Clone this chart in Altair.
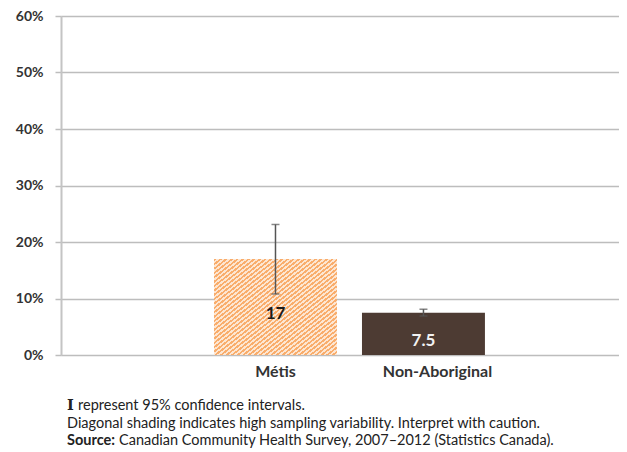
import altair as alt
import pandas as pd

categories = ["Métis", "Non-Aboriginal"]
values = [17, 7.5]
ci_low = [10.8, 6.9]
ci_high = [23.1, 8.1]
hatched = [True, False]
value_labels = ["17", "7.5"]
y_ticks = [0, 10, 20, 30, 40, 50, 60]

df = pd.DataFrame({
    "category": categories,
    "value": values,
    "low": ci_low,
    "high": ci_high,
    "hatched": hatched,
    "label": value_labels,
})

FONT = "Lato"
ORANGE = "#f9ad6c"
LIGHT = "#fde6d2"
BROWN = "#4d3b33"

# diagonal hatching built as a hard-stop linear gradient
n_stripes = 44
stops = []
for k in range(n_stripes):
    a = k / n_stripes
    b = (k + 0.5) / n_stripes
    c = (k + 1) / n_stripes
    stops += [
        alt.GradientStop(offset=a, color=ORANGE),
        alt.GradientStop(offset=b, color=ORANGE),
        alt.GradientStop(offset=b, color=LIGHT),
        alt.GradientStop(offset=c, color=LIGHT),
    ]
hatch = alt.LinearGradient(gradient="linear", stops=stops, x1=0, y1=0, x2=1, y2=1)

x_enc = alt.X(
    "category:N",
    sort=categories,
    scale=alt.Scale(domain=categories, paddingInner=0.169, paddingOuter=0.97, align=0.533),
    axis=alt.Axis(
        title=None, ticks=False, domain=False, labelAngle=0,
        labelFont=FONT, labelFontSize=16, labelFontWeight="bold",
        labelColor="#333333", labelPadding=8,
        labelOffset=alt.ExprRef("datum.value == 'Non-Aboriginal' ? 14 : 0"),
    ),
)
y_enc = alt.Y(
    "value:Q",
    scale=alt.Scale(domain=[0, 60]),
    axis=alt.Axis(
        title=None, values=y_ticks, labelExpr="datum.value + '%'",
        labelFont=FONT, labelFontSize=14, labelFontWeight="bold", labelColor="#333333",
        labelPadding=12, tickSize=6, tickColor="#bdbdbd", tickWidth=1.5,
        gridColor="#bdbdbd", gridWidth=1.5, domainColor="#c4c4c4", domainWidth=2,
    ),
)

base = alt.Chart(df)

bars_h = base.transform_filter("datum.hatched").mark_bar(fill=hatch).encode(x=x_enc, y=y_enc)
bars_s = base.transform_filter("!datum.hatched").mark_bar(color=BROWN).encode(
    x=alt.X("category:N", sort=categories), y="value:Q"
)

err_rule = base.mark_rule(color="#555555", strokeWidth=1.5).encode(
    x=alt.X("category:N", sort=categories), y="low:Q", y2="high:Q"
)
err_lo = base.mark_tick(color="#555555", thickness=1.5, size=8, orient="horizontal").encode(
    x=alt.X("category:N", sort=categories), y="low:Q"
)
err_hi = base.mark_tick(color="#555555", thickness=1.5, size=8, orient="horizontal").encode(
    x=alt.X("category:N", sort=categories), y="high:Q"
)

labels = base.transform_calculate(mid="datum.value / 2").mark_text(
    font=FONT, fontSize=17, fontWeight="bold", dy=7
).encode(
    x=alt.X("category:N", sort=categories),
    y="mid:Q",
    text="label:N",
    color=alt.condition("datum.hatched", alt.value("#1a1a1a"), alt.value("#f2f2f2")),
)

def note(txt, x, y, font=FONT, weight="normal"):
    return alt.Chart(df).transform_filter("datum.hatched").mark_text(
        text=txt, align="left", baseline="middle", font=font, fontSize=14.5,
        fontWeight=weight, color="#222222"
    ).encode(x=alt.value(x), y=alt.value(y))

notes = [
    note("I", 6, 390, font="DejaVu Serif", weight="bold"),
    note("represent 95% confidence intervals.", 17, 390),
    note("Diagonal shading indicates high sampling variability. Interpret with caution.", 6, 407.5),
    note("Source:", 6, 424.5, weight="bold"),
    note("Canadian Community Health Survey, 2007–2012 (Statistics Canada).", 58, 424.5),
]

chart = alt.layer(bars_h, bars_s, err_rule, err_lo, err_hi, labels, *notes).properties(
    width=558,
    height=339,
    autosize=alt.AutoSizeParams(type="none"),
    padding={"left": 53, "top": 8, "right": 0, "bottom": 95},
).configure_view(stroke=None).configure(background="white")

chart.save("out.html", embed_options={"renderer": "svg", "actions": False})
